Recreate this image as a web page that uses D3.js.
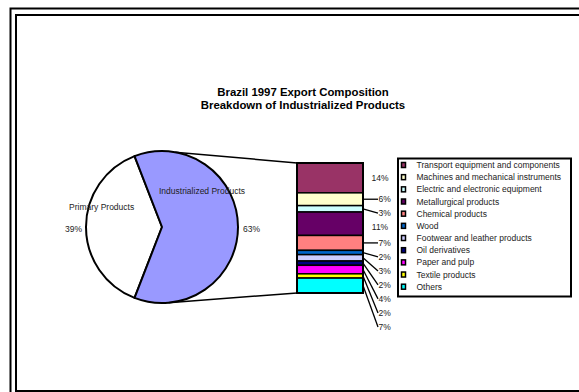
<!DOCTYPE html>
<html>
<head>
<meta charset="utf-8">
<script src="https://cdn.jsdelivr.net/npm/d3@7"></script>
<style>
  html, body { margin: 0; padding: 0; background: #fff; }
  svg { display: block; font-family: "Liberation Sans", Arial, sans-serif; }
</style>
</head>
<body>
<svg id="chart" width="579" height="392"></svg>
<script>
// Pie: main split of exports
const pieCategories = ["Primary Products", "Industrialized Products"];
const pieValues = [39, 63];
const pieColors = ["#FFFFFF", "#9999FF"];

// Stacked bar: breakdown of industrialized products (share of total exports, %)
const barCategories = [
  "Transport equipment and components",
  "Machines and mechanical instruments",
  "Electric and electronic equipment",
  "Metallurgical products",
  "Chemical products",
  "Wood",
  "Footwear and leather products",
  "Oil derivatives",
  "Paper and pulp",
  "Textile products",
  "Others"
];
const barValues = [14, 6, 3, 11, 7, 2, 3, 2, 4, 2, 7];
const barColors = ["#993366", "#FFFFCC", "#CCFFFF", "#660066", "#FF8080",
                   "#0066CC", "#CCCCFF", "#000080", "#FF00FF", "#FFFF00", "#00FFFF"];

const titleLines = ["Brazil 1997 Export Composition", "Breakdown of Industrialized Products"];

const svg = d3.select("#chart");

// Outer and inner frames
svg.append("rect").attr("x", 10.5).attr("y", 8.5).attr("width", 600).attr("height", 400)
  .attr("fill", "none").attr("stroke", "#000").attr("stroke-width", 2);
svg.append("rect").attr("x", 16).attr("y", 15).attr("width", 600).attr("height", 376)
  .attr("fill", "#fff").attr("stroke", "#000").attr("stroke-width", 2);

// Title
svg.append("g").selectAll("text").data(titleLines).join("text")
  .attr("x", 303).attr("y", (d, i) => 95.8 + i * 13.4)
  .attr("text-anchor", "middle").attr("font-weight", "bold")
  .attr("font-size", 11.4).attr("fill", "#000").text(d => d);

// Pie
const cx = 162, cy = 227, r = 76;
const total = d3.sum(pieValues);
const indAngle = pieValues[1] / total * 2 * Math.PI;
// industrialized slice centred toward the bar on the right
const start = Math.PI / 2 - indAngle / 2;
const pie = d3.pie().sort(null).value(d => d)
  .startAngle(start + indAngle - 2 * Math.PI).endAngle(start + indAngle);
const arcs = pie(pieValues);
const arc = d3.arc().innerRadius(0).outerRadius(r);
const pg = svg.append("g").attr("transform", `translate(${cx},${cy})`);
pg.selectAll("path").data(arcs).join("path")
  .attr("d", arc).attr("fill", (d, i) => pieColors[i])
  .attr("stroke", "#000").attr("stroke-width", 2).attr("stroke-linejoin", "round");

// Bar geometry
const barX = d3.scaleBand().domain(["industrialized"]).range([297, 363]).padding(0);
const barTop = 163, barBottom = 293;
const y = d3.scaleLinear().domain([0, d3.sum(barValues)]).range([barTop, barBottom]);
const stacked = [];
let acc = 0;
barValues.forEach((v, i) => { stacked.push({ i, v, y0: acc, y1: acc + v }); acc += v; });

// Connector lines from pie to bar
const topAng = 10 * Math.PI / 180, botAng = 175 * Math.PI / 180;
const bx = barX("industrialized");
svg.append("line")
  .attr("x1", cx + r * Math.sin(topAng)).attr("y1", cy - r * Math.cos(topAng))
  .attr("x2", bx).attr("y2", barTop).attr("stroke", "#000").attr("stroke-width", 1.5);
svg.append("line")
  .attr("x1", cx + r * Math.sin(botAng)).attr("y1", cy - r * Math.cos(botAng))
  .attr("x2", bx).attr("y2", barBottom).attr("stroke", "#000").attr("stroke-width", 1.5);

// Bar segments
svg.append("g").selectAll("rect").data(stacked).join("rect")
  .attr("x", bx).attr("width", barX.bandwidth())
  .attr("y", d => y(d.y0)).attr("height", d => y(d.y1) - y(d.y0))
  .attr("fill", d => barColors[d.i]).attr("stroke", "#000").attr("stroke-width", 1.5);
svg.append("rect").attr("x", bx).attr("y", barTop)
  .attr("width", barX.bandwidth()).attr("height", barBottom - barTop)
  .attr("fill", "none").attr("stroke", "#000").attr("stroke-width", 2);

// Pie labels
const labelSize = 8.5;
svg.append("text").attr("x", 159).attr("y", 193.8).attr("font-size", labelSize)
  .attr("fill", "#222").text(pieCategories[1]);
svg.append("text").attr("x", 69).attr("y", 209.8).attr("font-size", labelSize)
  .attr("fill", "#222").text(pieCategories[0]);
svg.append("text").attr("x", 65).attr("y", 231.8).attr("font-size", labelSize)
  .attr("fill", "#222").text(pieValues[0] + "%");
svg.append("text").attr("x", 243).attr("y", 231.8).attr("font-size", labelSize)
  .attr("fill", "#222").text(pieValues[1] + "%");

// Bar value labels: pushed downward when they would collide, leader for small segments
const labelGap = 14;
let prevY = -Infinity;
const labels = stacked.map(d => {
  const mid = (y(d.y0) + y(d.y1)) / 2;
  const ly = Math.max(mid, prevY + labelGap);
  prevY = ly;
  const leader = (y(d.y1) - y(d.y0)) < 20;
  return { ...d, mid, ly, leader };
});
const lg = svg.append("g");
lg.selectAll("line").data(labels.filter(d => d.leader)).join("line")
  .attr("x1", bx + barX.bandwidth()).attr("y1", d => d.mid)
  .attr("x2", 378).attr("y2", d => d.ly)
  .attr("stroke", "#000").attr("stroke-width", 1.3);
lg.selectAll("text").data(labels).join("text")
  .attr("x", d => d.leader ? 378.5 : 380)
  .attr("text-anchor", d => d.leader ? "start" : "middle")
  .attr("y", d => d.ly + 3)
  .attr("font-size", labelSize).attr("fill", "#222")
  .text(d => d.v + "%");

// Legend
const legend = svg.append("g");
legend.append("rect").attr("x", 398).attr("y", 158.5).attr("width", 173).attr("height", 138)
  .attr("fill", "#fff").attr("stroke", "#000").attr("stroke-width", 2);
const rowY = d3.scalePoint().domain(barCategories).range([165, 286.7]);
const rows = legend.selectAll("g.row").data(barCategories).join("g").attr("class", "row")
  .attr("transform", d => `translate(0,${rowY(d)})`);
rows.append("rect").attr("x", 401.5).attr("y", -2.5).attr("width", 4).attr("height", 5)
  .attr("fill", (d, i) => barColors[i]).attr("stroke", "#000").attr("stroke-width", 1.5);
rows.append("text").attr("x", 416.5).attr("y", 3).attr("font-size", labelSize)
  .attr("fill", "#222").text(d => d);
</script>
</body>
</html>
